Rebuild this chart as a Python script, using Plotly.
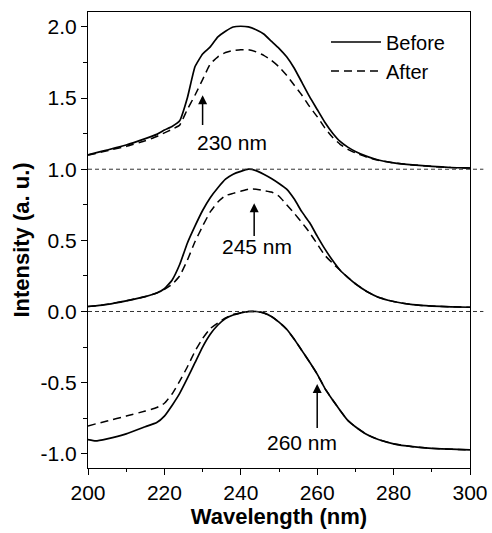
import plotly.graph_objects as go

# ---------------- data ----------------
wl = [200, 202, 205, 210, 215, 218, 220, 222, 224, 226, 228, 230, 232, 234, 236,
      238, 240, 242, 244, 246, 248, 250, 252, 254, 256, 258, 260, 262, 264, 266,
      268, 270, 273, 276, 280, 285, 290, 295, 300]

# top pair (230 nm), offset +1
top_before = [1.10, 1.115, 1.135, 1.17, 1.215, 1.245, 1.275, 1.30, 1.34, 1.50, 1.72,
              1.81, 1.86, 1.93, 1.97, 2.00, 2.005, 2.00, 1.98, 1.95, 1.90, 1.85, 1.79,
              1.71, 1.61, 1.51, 1.42, 1.33, 1.255, 1.195, 1.155, 1.125, 1.09, 1.065,
              1.045, 1.03, 1.02, 1.012, 1.008]
top_after = [1.10, 1.11, 1.13, 1.16, 1.20, 1.23, 1.255, 1.28, 1.31, 1.42, 1.52,
             1.63, 1.74, 1.79, 1.82, 1.835, 1.84, 1.84, 1.825, 1.80, 1.765, 1.72, 1.66,
             1.59, 1.52, 1.44, 1.37, 1.29, 1.225, 1.175, 1.14, 1.115, 1.085, 1.063,
             1.045, 1.03, 1.02, 1.012, 1.008]

# middle pair (245 nm), offset 0
mid_before = [0.035, 0.04, 0.05, 0.075, 0.105, 0.13, 0.16, 0.22, 0.33, 0.48, 0.60,
              0.71, 0.80, 0.87, 0.93, 0.965, 0.985, 1.00, 0.99, 0.965, 0.935, 0.90,
              0.86, 0.79, 0.70, 0.625, 0.53, 0.44, 0.36, 0.29, 0.24, 0.195, 0.14,
              0.10, 0.07, 0.048, 0.038, 0.033, 0.03]
mid_after = [0.035, 0.04, 0.05, 0.075, 0.105, 0.13, 0.155, 0.19, 0.25, 0.36, 0.49,
             0.60, 0.70, 0.77, 0.815, 0.83, 0.845, 0.86, 0.86, 0.85, 0.84, 0.81,
             0.75, 0.69, 0.625, 0.555, 0.475, 0.395, 0.34, 0.29, 0.24, 0.195, 0.14,
             0.10, 0.07, 0.048, 0.038, 0.033, 0.03]

# bottom pair (260 nm), offset -1
bot_before = [-0.90, -0.91, -0.895, -0.86, -0.81, -0.78, -0.735, -0.66, -0.575, -0.47,
              -0.36, -0.25, -0.16, -0.095, -0.05, -0.025, -0.01, 0.0, 0.0, -0.01,
              -0.035, -0.075, -0.125, -0.195, -0.275, -0.355, -0.44, -0.54, -0.62,
              -0.695, -0.765, -0.81, -0.865, -0.90, -0.93, -0.95, -0.962, -0.968, -0.972]
bot_after = [-0.805, -0.79, -0.77, -0.735, -0.70, -0.675, -0.645, -0.58, -0.49, -0.39,
             -0.28, -0.19, -0.12, -0.08, -0.045, -0.02, -0.01, 0.0, 0.0, -0.01,
             -0.035, -0.075, -0.125, -0.195, -0.275, -0.355, -0.44, -0.54, -0.62,
             -0.695, -0.765, -0.81, -0.865, -0.90, -0.93, -0.95, -0.962, -0.968, -0.972]

# annotations: label, arrow x, arrow tip y, arrow tail y, text x, text y
labels = ["230 nm", "245 nm", "260 nm"]
arrow_x = [230, 243.5, 260]
arrow_tip = [1.52, 0.76, -0.51]
arrow_tail = [1.30, 0.52, -0.83]
text_x = [237.8, 244.2, 255.9]
text_y = [1.19, 0.46, -0.92]

y_tickvals = [-1.0, -0.5, 0.0, 0.5, 1.0, 1.5, 2.0]
y_ticktext = ["-1.0", "-0.5", "0.0", "0.5", "1.0", "1.5", "2.0"]
x_tickvals = [200, 220, 240, 260, 280, 300]
x_ticktext = ["200", "220", "240", "260", "280", "300"]

FONT = "Arial, Liberation Sans, sans-serif"

fig = go.Figure()
pairs = [(top_before, top_after), (mid_before, mid_after), (bot_before, bot_after)]
for i, (b, a) in enumerate(pairs):
    fig.add_trace(go.Scatter(x=wl, y=b, mode="lines", name="Before",
                             line=dict(color="black", width=1.7, shape="spline", smoothing=0.4),
                             showlegend=(i == 0), legendgroup="b"))
    fig.add_trace(go.Scatter(x=wl, y=a, mode="lines", name="After",
                             line=dict(color="black", width=1.5, dash="8px,5px",
                                       shape="spline", smoothing=0.4),
                             showlegend=(i == 0), legendgroup="a"))

# dashed zero-lines between panels
for yv in [0.0, 1.0]:
    fig.add_shape(type="line", xref="paper", yref="y", x0=0, x1=1.035, y0=yv, y1=yv,
                  line=dict(color="#333", width=1, dash="4px,3px"))

for lab, ax_, tip, tail, tx, ty in zip(labels, arrow_x, arrow_tip, arrow_tail, text_x, text_y):
    fig.add_annotation(x=ax_, y=tip, ax=ax_, ay=tail, axref="x", ayref="y",
                       xref="x", yref="y", text="", showarrow=True,
                       arrowhead=2, arrowsize=1.2, arrowwidth=1.5, arrowcolor="black")
    fig.add_annotation(x=tx, y=ty, xref="x", yref="y", text=lab, showarrow=False,
                       font=dict(size=21, color="black", family=FONT))

fig.update_layout(
    width=492, height=533,
    margin=dict(l=88, r=22, t=12, b=65, autoexpand=False),
    paper_bgcolor="white", plot_bgcolor="white",
    font=dict(family=FONT, color="black"),
    legend=dict(x=0.623, y=0.977, xanchor="left", yanchor="top",
                bgcolor="rgba(0,0,0,0)", font=dict(size=20, family=FONT),
                itemwidth=50, tracegroupgap=0),
    xaxis=dict(range=[200, 300], tickvals=x_tickvals, ticktext=x_ticktext,
               ticks="outside", ticklen=6, tickwidth=1, tickcolor="black",
               minor=dict(dtick=10, tick0=200, ticks="outside", ticklen=3, tickcolor="black"),
               showline=True, linecolor="black", linewidth=1, mirror=True,
               showgrid=False, zeroline=False, automargin=False,
               tickfont=dict(size=21, family=FONT),
               title=dict(text="<b>Wavelength (nm)</b>", font=dict(size=22, family=FONT),
                          standoff=4)),
    yaxis=dict(range=[-1.1, 2.105], tickvals=y_tickvals, ticktext=y_ticktext,
               ticks="outside", ticklen=6, tickwidth=1, tickcolor="black",
               minor=dict(dtick=0.25, tick0=0, ticks="outside", ticklen=4, tickcolor="black"),
               showline=True, linecolor="black", linewidth=1, mirror=True,
               showgrid=False, zeroline=False, automargin=False,
               tickfont=dict(size=21, family=FONT),
               title=dict(text="<b>Intensity (a. u.)</b>", font=dict(size=22, family=FONT),
                          standoff=4)),
)

fig.write_html("out.html", config={"displayModeBar": False},
               post_script="document.body.style.margin='0px';")
